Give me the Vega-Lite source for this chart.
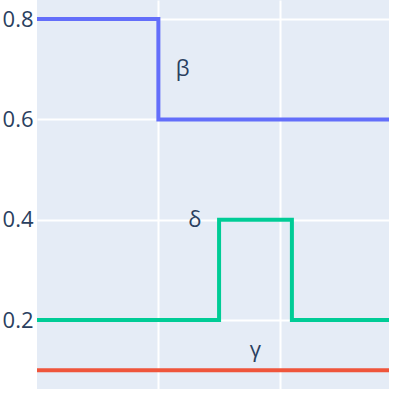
{
  "$schema": "https://vega.github.io/schema/vega-lite/v6.json",
  "width": 399,
  "height": 399,
  "autosize": {"type": "fit", "contains": "padding"},
  "padding": {"left": 2, "top": 0, "right": 10, "bottom": 10},
  "background": "white",
  "config": {
    "view": {"fill": "#E5ECF6", "stroke": null},
    "font": "Open Sans"
  },
  "datasets": {
    "lines": [
      {"series": "β", "x": 0, "y": 0.8},
      {"series": "β", "x": 1, "y": 0.6},
      {"series": "β", "x": 2.9, "y": 0.6},
      {"series": "δ", "x": 0, "y": 0.2},
      {"series": "δ", "x": 1.5, "y": 0.4},
      {"series": "δ", "x": 2.1, "y": 0.2},
      {"series": "δ", "x": 2.9, "y": 0.2},
      {"series": "γ", "x": 0, "y": 0.1},
      {"series": "γ", "x": 2.9, "y": 0.1}
    ],
    "labels": [
      {"series": "β", "x": 1.2, "y": 0.7},
      {"series": "δ", "x": 1.3, "y": 0.4},
      {"series": "γ", "x": 1.8, "y": 0.14}
    ]
  },
  "layer": [
    {
      "data": {"name": "lines"},
      "mark": {"type": "line", "interpolate": "step-after", "strokeWidth": 4, "clip": true},
      "encoding": {
        "x": {
          "field": "x", "type": "quantitative",
          "scale": {"domain": [0, 2.9], "nice": false, "zero": false},
          "axis": {"title": null, "labels": false, "ticks": false, "domain": false, "values": [1, 2], "grid": true, "gridColor": "white", "gridWidth": 2}
        },
        "y": {
          "field": "y", "type": "quantitative",
          "scale": {"domain": [0.0626, 0.838], "nice": false, "zero": false},
          "axis": {"title": null, "values": [0.2, 0.4, 0.6, 0.8], "format": ".1f", "ticks": false, "domain": false, "labelFontSize": 22, "labelColor": "#2a3f5f", "labelPadding": 4, "grid": true, "gridColor": "white", "gridWidth": 2}
        },
        "color": {
          "field": "series", "type": "nominal",
          "scale": {"domain": ["β", "δ", "γ"], "range": ["#636efa", "#00cc96", "#EF553B"]},
          "legend": null
        },
        "detail": {"field": "series"}
      }
    },
    {
      "data": {"name": "labels"},
      "mark": {"type": "text", "fontSize": 22, "color": "#2a3f5f", "baseline": "middle", "align": "center"},
      "encoding": {
        "x": {"field": "x", "type": "quantitative"},
        "y": {"field": "y", "type": "quantitative"},
        "text": {"field": "series"}
      }
    }
  ]
}
